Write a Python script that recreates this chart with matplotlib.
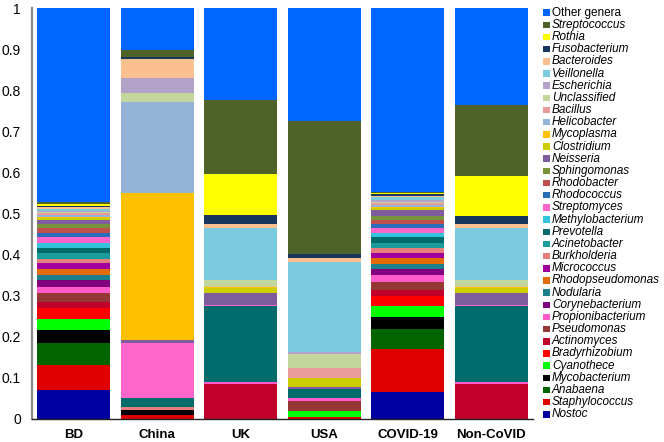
import matplotlib
matplotlib.use("Agg")
import matplotlib.pyplot as plt
from matplotlib.patches import Rectangle
import numpy as np

plt.rcParams['font.family'] = ['Liberation Sans', 'DejaVu Sans']

categories = ["BD", "China", "UK", "USA", "COVID-19", "Non-CoVID"]

# stacking order: bottom -> top
genera = ["Nostoc", "Staphylococcus", "Anabaena", "Mycobacterium", "Cyanothece",
          "Bradyrhizobium", "Actinomyces", "Pseudomonas", "Propionibacterium",
          "Corynebacterium", "Nodularia", "Rhodopseudomonas", "Micrococcus",
          "Burkholderia", "Acinetobacter", "Prevotella", "Methylobacterium",
          "Streptomyces", "Rhodococcus", "Rhodobacter", "Sphingomonas", "Neisseria",
          "Clostridium", "Mycoplasma", "Helicobacter", "Bacillus", "Unclassified",
          "Escherichia", "Veillonella", "Bacteroides", "Fusobacterium", "Rothia",
          "Streptococcus", "Other genera"]

colors = ["#0000A0", "#E00000", "#006400", "#000000", "#00FF00",
          "#FF0000", "#C0002A", "#953735", "#FF5CCB",
          "#800080", "#1C7F8C", "#E36C09", "#A0009E",
          "#E67E7E", "#1A9C9C", "#006B6B", "#33C3DB",
          "#FF66CC", "#2A6EBB", "#C0504D", "#77933C", "#7E5C9E",
          "#CCCC00", "#FFC000", "#95B3D7", "#E99B9B", "#C3D69B",
          "#B3A2C7", "#7ACBE0", "#FAC090", "#17375E", "#FFFF00",
          "#4F6228", "#0066FF"]

bd = [0.070, 0.061, 0.054, 0.032, 0.026, 0.027, 0.015, 0.022, 0.014, 0.017, 0.012,
      0.015, 0.015, 0.009, 0.015, 0.012, 0.012, 0.015, 0.010, 0.011, 0.011, 0.009,
      0.005, 0.003, 0.005, 0.004, 0.003, 0.003, 0.005, 0.004, 0.003, 0.005, 0.004, 0.472]
china = [0, 0.010, 0, 0.012, 0, 0, 0, 0, 0, 0, 0, 0, 0, 0.008, 0, 0.021, 0, 0.134,
         0, 0, 0, 0.007, 0, 0.358, 0.221, 0, 0.022, 0.037, 0, 0.046, 0.005, 0, 0.017, 0.102]
uk = [0, 0, 0, 0, 0, 0, 0.085, 0, 0.005, 0, 0, 0, 0, 0, 0, 0.185, 0, 0.002, 0, 0, 0,
      0.029, 0.012, 0.003, 0, 0, 0.017, 0, 0.127, 0.010, 0.022, 0.098, 0.181, 0.224]
usa = [0, 0.004, 0, 0, 0.016, 0, 0, 0.025, 0.006, 0, 0, 0, 0, 0, 0, 0.022, 0, 0, 0, 0, 0,
       0.005, 0.022, 0, 0, 0.024, 0.034, 0.005, 0.219, 0.010, 0.009, 0, 0.324, 0.275]
covid = [0.066, 0.104, 0.049, 0.029, 0.027, 0.024, 0.015, 0.019, 0.017, 0.015, 0.012,
         0.015, 0.012, 0.012, 0.012, 0.015, 0.010, 0.012, 0.009, 0.010, 0.010, 0.015,
         0.004, 0.003, 0.005, 0.004, 0.004, 0.004, 0.006, 0.004, 0.004, 0.003, 0.002, 0.448]
noncovid = [0, 0, 0, 0, 0, 0, 0.085, 0, 0.005, 0, 0, 0, 0, 0, 0, 0.185, 0, 0.002, 0, 0, 0,
            0.029, 0.012, 0.003, 0, 0, 0.017, 0, 0.127, 0.010, 0.020, 0.097, 0.173, 0.235]

yticks = [0, 0.1, 0.2, 0.3, 0.4, 0.5, 0.6, 0.7, 0.8, 0.9, 1]
ytick_labels = ["0", "0.1", "0.2", "0.3", "0.4", "0.5", "0.6", "0.7", "0.8", "0.9", "1"]

data = np.array([bd, china, uk, usa, covid, noncovid])  # shape (6, 34)

W, H = 664, 442
fig = plt.figure(figsize=(W/100, H/100), dpi=100)
ax = fig.add_axes([32/W, 1 - 419/H, (533-32)/W, (419-8)/H])

x = np.arange(len(categories))
bottom = np.zeros(len(categories))
for j, g in enumerate(genera):
    ax.bar(x, data[:, j], width=0.875, bottom=bottom, color=colors[j],
           edgecolor='none', linewidth=0, label=g)
    bottom += data[:, j]

ax.set_xlim(-0.5, len(categories) - 0.5)
ax.set_ylim(0, 1)
ax.set_yticks(yticks)
ax.set_yticklabels(ytick_labels, fontsize=10)
ax.set_xticks(x)
ax.set_xticklabels(categories, fontsize=9.5, fontweight='bold')
ax.tick_params(axis='y', length=0, pad=8)
ax.tick_params(axis='x', length=0, pad=7)
for s in ['top', 'right']:
    ax.spines[s].set_visible(False)
ax.spines['left'].set_color('#8a8a8a')
ax.spines['left'].set_linewidth(1.6)
ax.spines['bottom'].set_color('#222222')
ax.spines['bottom'].set_linewidth(1.0)

# legend (top entry = top of stack), laid out at a fixed pitch
leg_x0, leg_y0, pitch, sq = 543, 12.7, 12.17, 6.5
for i, j in enumerate(range(len(genera) - 1, -1, -1)):
    yc = leg_y0 + i * pitch
    fig.add_artist(Rectangle((leg_x0 / W, 1 - (yc + sq / 2) / H), sq / W, sq / H,
                             transform=fig.transFigure, facecolor=colors[j],
                             edgecolor='none'))
    style = 'normal' if genera[j] == "Other genera" else 'italic'
    fig.text((leg_x0 + sq + 2.5) / W, 1 - yc / H, genera[j], fontsize=8.5,
             fontstyle=style, va='center', ha='left', color='black')

fig.savefig("out.png", dpi=100)
